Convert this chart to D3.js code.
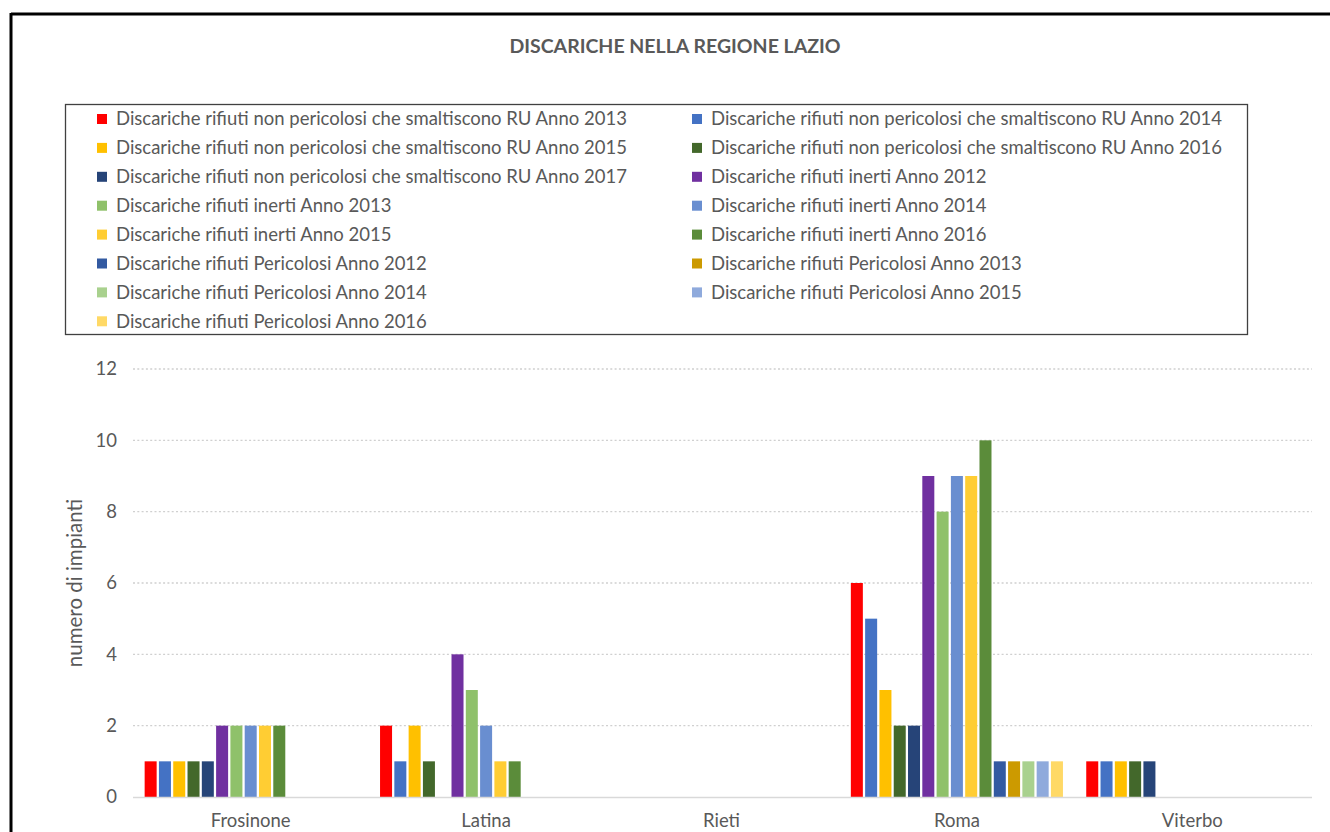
<!DOCTYPE html>
<html>
<head>
<meta charset="utf-8">
<script src="https://cdn.jsdelivr.net/npm/d3@7"></script>
<style>
  html, body { margin: 0; padding: 0; background: #fff; }
  svg { display: block; font-family: Lato, "Open Sans", sans-serif; }
</style>
</head>
<body>
<svg id="chart" width="1330" height="832"></svg>
<script>
const title = "DISCARICHE NELLA REGIONE LAZIO";
const yAxisLabel = "numero di impianti";
const categories = ["Frosinone", "Latina", "Rieti", "Roma", "Viterbo"];
const seriesNames = [
  "Discariche rifiuti non pericolosi che smaltiscono RU Anno 2013",
  "Discariche rifiuti non pericolosi che smaltiscono RU Anno 2014",
  "Discariche rifiuti non pericolosi che smaltiscono RU Anno 2015",
  "Discariche rifiuti non pericolosi che smaltiscono RU Anno 2016",
  "Discariche rifiuti non pericolosi che smaltiscono RU Anno 2017",
  "Discariche rifiuti inerti Anno 2012",
  "Discariche rifiuti inerti Anno 2013",
  "Discariche rifiuti inerti Anno 2014",
  "Discariche rifiuti inerti Anno 2015",
  "Discariche rifiuti inerti Anno 2016",
  "Discariche rifiuti Pericolosi Anno 2012",
  "Discariche rifiuti Pericolosi Anno 2013",
  "Discariche rifiuti Pericolosi Anno 2014",
  "Discariche rifiuti Pericolosi Anno 2015",
  "Discariche rifiuti Pericolosi Anno 2016"
];
const seriesColors = [
  "#FF0000", "#4472C4", "#FFC000", "#43682B", "#264478",
  "#7030A0", "#8FC16A", "#698ED0", "#FFCD33", "#5B8C3A",
  "#335AA1", "#CC9A00", "#A9D18E", "#8FAADC", "#FFD966"
];
// values per category, in series order
const valuesFrosinone = [1, 1, 1, 1, 1, 2, 2, 2, 2, 2, 0, 0, 0, 0, 0];
const valuesLatina    = [2, 1, 2, 1, 0, 4, 3, 2, 1, 1, 0, 0, 0, 0, 0];
const valuesRieti     = [0, 0, 0, 0, 0, 0, 0, 0, 0, 0, 0, 0, 0, 0, 0];
const valuesRoma      = [6, 5, 3, 2, 2, 9, 8, 9, 9, 10, 1, 1, 1, 1, 1];
const valuesViterbo   = [1, 1, 1, 1, 1, 0, 0, 0, 0, 0, 0, 0, 0, 0, 0];
const yTicks = [0, 2, 4, 6, 8, 10, 12];

const valuesByCategory = [valuesFrosinone, valuesLatina, valuesRieti, valuesRoma, valuesViterbo];
const data = [];
categories.forEach((c, ci) => {
  valuesByCategory[ci].forEach((v, si) => data.push({ cat: c, s: si, v: v }));
});

const svg = d3.select("#chart");
const textColor = "#595959";

// outer frame (top & left)
svg.append("line").attr("x1", 11).attr("x2", 1330).attr("y1", 14).attr("y2", 14)
  .attr("stroke", "#000").attr("stroke-width", 3);
svg.append("line").attr("x1", 11).attr("x2", 11).attr("y1", 13).attr("y2", 832)
  .attr("stroke", "#000").attr("stroke-width", 3);

// title
svg.append("text").attr("x", 675).attr("y", 53).attr("text-anchor", "middle")
  .attr("font-size", 19.5).attr("font-weight", "bold").attr("fill", textColor)
  .text(title);

// scales
const plot = { left: 133, right: 1310, top: 369, bottom: 797 };
const x0 = d3.scaleBand().domain(categories).range([plot.left, plot.right]).padding(0);
const x1 = d3.scaleBand().domain(d3.range(seriesNames.length))
  .range([10.5, x0.bandwidth() - 10.5]).paddingInner(0.16).paddingOuter(0.08);
const y = d3.scaleLinear().domain([0, 12]).range([plot.bottom, plot.top]);

// gridlines
svg.append("g").selectAll("line").data(yTicks.filter(t => t > 0)).join("line")
  .attr("x1", plot.left).attr("x2", 1312)
  .attr("y1", d => y(d)).attr("y2", d => y(d))
  .attr("stroke", "#D0D0D0").attr("stroke-width", 1.3).attr("stroke-dasharray", "2,2.3");

// y axis labels
const yAxis = d3.axisLeft(y).tickValues(yTicks).tickSize(0).tickPadding(0);
const yg = svg.append("g").attr("transform", `translate(117,0)`).call(yAxis);
yg.select(".domain").remove();
yg.selectAll("text").attr("font-size", 18.5).attr("fill", textColor)
  .attr("font-family", "Lato, sans-serif");

// bars
svg.append("g").selectAll("rect").data(data.filter(d => d.v > 0)).join("rect")
  .attr("x", d => x0(d.cat) + x1(d.s))
  .attr("width", x1.bandwidth())
  .attr("y", d => y(d.v))
  .attr("height", d => y(0) - y(d.v))
  .attr("fill", d => seriesColors[d.s]);

// baseline
svg.append("line").attr("x1", plot.left).attr("x2", 1312)
  .attr("y1", y(0) + 0.5).attr("y2", y(0) + 0.5)
  .attr("stroke", "#D9D9D9").attr("stroke-width", 1.5);

// x axis labels
const xAxis = d3.axisBottom(x0).tickSize(0).tickPadding(0);
const xg = svg.append("g").attr("transform", `translate(0,${y(0) + 17})`).call(xAxis);
xg.select(".domain").remove();
xg.selectAll("text").attr("font-size", 18.5).attr("fill", textColor)
  .attr("font-family", "Lato, sans-serif");

// y axis title
svg.append("text").attr("transform", "translate(82,583) rotate(-90)")
  .attr("text-anchor", "middle").attr("font-size", 20.5).attr("fill", textColor)
  .text(yAxisLabel);

// legend
svg.append("rect").attr("x", 65.5).attr("y", 104.5).attr("width", 1182).attr("height", 230)
  .attr("fill", "none").attr("stroke", "#404040").attr("stroke-width", 1.3);
const lg = svg.append("g").selectAll("g").data(seriesNames).join("g")
  .attr("transform", (d, i) => `translate(${i % 2 === 0 ? 97 : 692},${119 + Math.floor(i / 2) * 28.9})`);
lg.append("rect").attr("x", 0).attr("y", -5).attr("width", 10).attr("height", 10)
  .attr("fill", (d, i) => seriesColors[i]);
lg.append("text").attr("x", 19).attr("y", 0).attr("dy", "0.35em")
  .attr("font-size", 18.5).attr("fill", textColor).text(d => d);
</script>
</body>
</html>
